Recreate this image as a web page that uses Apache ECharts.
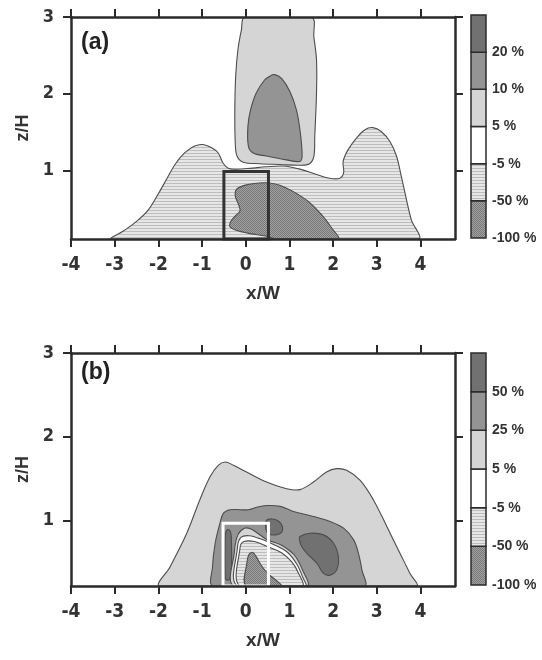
<!DOCTYPE html>
<html>
<head>
<meta charset="utf-8">
<script src="https://cdn.jsdelivr.net/npm/echarts@6/dist/echarts.min.js"></script>
<style>
  html, body { margin: 0; padding: 0; background: #fff; }
  #chart { width: 542px; height: 660px; }
</style>
</head>
<body>
<div id="chart"></div>
<script>
// axes
const xTicks = [-4, -3, -2, -1, 0, 1, 2, 3, 4];
const zTicks = [1, 2, 3];
const xRange = [-4, 4.79];
const zRangeA = [0.11, 3];
const zRangeB = [0.22, 3];

// colour bar labels, bottom to top
const barLevels = [0, 1, 2, 3, 4, 5];
const barLabelsA = ["-100 %", "-50 %", "-5 %", "5 %", "10 %", "20 %"];
const barLabelsB = ["-100 %", "-50 %", "-5 %", "5 %", "25 %", "50 %"];

// building box [x0, z0, x1, z1]
const boxA = [-0.5, 0.11, 0.52, 0.99];
const boxB = [-0.52, 0.22, 0.52, 0.97];

// (a) contour outlines, [x/W, z/H]
const aMinus5 = [[-3.07,0.11],[-2.81,0.21],[-2.50,0.34],[-2.23,0.49],[-2.01,0.69],[-1.82,0.88],[-1.62,1.08],[-1.40,1.23],[-1.17,1.32],[-0.98,1.34],[-0.79,1.30],[-0.63,1.23],[-0.52,1.10],[-0.40,1.03],[-0.21,1.02],[0.09,1.03],[0.47,1.05],[0.85,1.06],[1.24,1.02],[1.62,0.95],[1.92,0.90],[2.15,0.90],[2.24,0.97],[2.23,1.12],[2.34,1.27],[2.53,1.42],[2.72,1.53],[2.91,1.56],[3.10,1.51],[3.30,1.38],[3.45,1.19],[3.56,0.93],[3.68,0.62],[3.79,0.36],[3.94,0.11]];
const aPlus5 = [[-0.02,3.0],[-0.10,2.83],[-0.18,2.57],[-0.23,2.23],[-0.25,1.79],[-0.24,1.36],[-0.20,1.19],[-0.06,1.11],[0.32,1.09],[0.78,1.08],[1.24,1.07],[1.46,1.09],[1.56,1.19],[1.58,1.45],[1.62,2.01],[1.62,2.44],[1.56,2.74],[1.50,3.0]];
const aPlus10 = [[0.66,2.25],[0.82,2.20],[1.01,2.03],[1.16,1.79],[1.25,1.49],[1.29,1.19],[1.24,1.12],[0.93,1.14],[0.47,1.19],[0.17,1.23],[0.06,1.32],[0.05,1.58],[0.11,1.79],[0.24,2.01],[0.43,2.18],[0.55,2.23]];
const aMinus50 = [[-0.21,0.76],[0.05,0.82],[0.30,0.84],[0.55,0.84],[0.78,0.81],[1.08,0.73],[1.43,0.60],[1.73,0.43],[1.96,0.26],[2.11,0.11],[0.70,0.11],[0.45,0.15],[0.10,0.18],[-0.20,0.22],[-0.36,0.27],[-0.34,0.34],[-0.22,0.42],[-0.13,0.48],[-0.18,0.58],[-0.24,0.67]];

// (b) contour outlines
const bPlus5 = [[-1.96,0.22],[-1.73,0.45],[-1.35,0.85],[-1.05,1.25],[-0.82,1.52],[-0.63,1.66],[-0.47,1.70],[-0.28,1.66],[0.02,1.58],[0.48,1.46],[0.94,1.38],[1.24,1.37],[1.55,1.46],[1.85,1.58],[2.08,1.62],[2.31,1.60],[2.62,1.48],[2.92,1.25],[3.23,0.93],[3.53,0.61],[3.76,0.37],[3.90,0.22]];
const bPlus25 = [[-0.74,0.22],[-0.76,0.45],[-0.70,0.73],[-0.59,0.97],[-0.51,1.09],[-0.36,1.13],[-0.13,1.13],[0.06,1.13],[0.25,1.16],[0.48,1.18],[0.79,1.17],[1.09,1.11],[1.55,1.05],[1.93,0.99],[2.24,0.91],[2.47,0.77],[2.58,0.61],[2.66,0.41],[2.71,0.22]];
const bPlus50Right = [[1.24,0.81],[1.47,0.85],[1.78,0.83],[2.01,0.73],[2.12,0.57],[2.08,0.41],[1.93,0.35],[1.78,0.37],[1.63,0.49],[1.40,0.61],[1.28,0.69],[1.23,0.77]];
const bPlus50Top = [[0.47,1.0],[0.62,1.02],[0.76,0.99],[0.84,0.93],[0.82,0.86],[0.68,0.83],[0.52,0.84],[0.46,0.9]];
const bPlus50Left = [[-0.47,0.32],[-0.47,0.82],[-0.43,0.89],[-0.36,0.88],[-0.33,0.80],[-0.33,0.36],[-0.37,0.30],[-0.43,0.29]];
const bArch5 = [[-0.27,0.22],[-0.26,0.63],[-0.18,0.83],[-0.03,0.91],[0.12,0.90],[0.27,0.85],[0.50,0.77],[0.81,0.71],[1.11,0.59],[1.30,0.41],[1.40,0.22]];
const bArchMinus5 = [[-0.19,0.22],[-0.19,0.68],[-0.11,0.80],[0.08,0.82],[0.35,0.78],[0.66,0.71],[0.96,0.62],[1.17,0.48],[1.30,0.33],[1.36,0.22]];
const bArchMinus50 = [[-0.13,0.22],[-0.13,0.68],[-0.04,0.75],[0.20,0.75],[0.50,0.69],[0.81,0.62],[1.05,0.51],[1.21,0.37],[1.29,0.22]];
const bArchMinus100 = [[0.01,0.22],[0.03,0.51],[0.08,0.60],[0.16,0.62],[0.24,0.57],[0.35,0.47],[0.50,0.37],[0.69,0.29],[0.81,0.22]];

const tickFont = "'Liberation Sans Narrow', 'DejaVu Sans Condensed', sans-serif";
const textFont = "'Liberation Sans', Arial, sans-serif";
const ink = "#2b2b2b";
const edge = "#4d4d4d";

function makePattern(w, h, base, mark, cells) {
  const c = document.createElement("canvas");
  c.width = w; c.height = h;
  const g = c.getContext("2d");
  g.fillStyle = base; g.fillRect(0, 0, w, h);
  g.fillStyle = mark;
  cells.forEach(([x, y, cw, ch]) => g.fillRect(x, y, cw, ch));
  return { image: c, repeat: "repeat" };
}

const fills = {
  dark: "#717171",
  mid: "#949494",
  light: "#d5d5d5",
  white: "#ffffff",
  striped: makePattern(4, 3, "#e6e6e6", "#bdbdbd", [[0, 0, 4, 1]]),
  stippled: makePattern(2, 2, "#a2a2a2", "#777777", [[0, 0, 1, 1], [1, 1, 1, 1]]),
};
const barFills = [fills.stippled, fills.striped, fills.white, fills.light, fills.mid, fills.dark];

function contour(grid, pts, fill) {
  return {
    type: "custom", xAxisIndex: grid, yAxisIndex: grid, clip: true, silent: true,
    data: pts,
    renderItem(params, api) {
      if (params.dataIndex !== 0) return;
      const cs = params.coordSys;
      return {
        type: "polygon",
        shape: {
          points: pts.map((p) => api.coord(p)),
          smooth: 0.35,
          smoothConstraint: [[cs.x, cs.y], [cs.x + cs.width, cs.y + cs.height]],
        },
        style: { fill: fill, stroke: edge, lineWidth: 1.1 },
      };
    },
  };
}

function box(grid, b, color) {
  return {
    type: "custom", xAxisIndex: grid, yAxisIndex: grid, silent: true, z: 4,
    data: [b],
    renderItem(params, api) {
      const p0 = api.coord([b[0], b[3]]);
      const p1 = api.coord([b[2], b[1]]);
      return {
        type: "rect",
        shape: { x: p0[0], y: p0[1], width: p1[0] - p0[0], height: p1[1] - p0[1] },
        style: { fill: "none", stroke: color, lineWidth: 3 },
      };
    },
  };
}

function colorBar(grid) {
  return {
    type: "custom", xAxisIndex: grid, yAxisIndex: grid, silent: true,
    data: barLevels,
    renderItem(params, api) {
      const i = api.value(0);
      const p0 = api.coord([0, i + 1]);
      const p1 = api.coord([1, i]);
      return {
        type: "rect",
        shape: { x: p0[0], y: p0[1], width: p1[0] - p0[0], height: p1[1] - p0[1] },
        style: { fill: barFills[i], stroke: ink, lineWidth: 1.5 },
      };
    },
  };
}

const lineStyle = { color: ink, width: 2.5 };

function plotX(grid, pos, named) {
  return {
    type: "value", gridIndex: grid, position: pos, min: xRange[0], max: xRange[1], z: 10,
    axisLine: { onZero: false, lineStyle },
    axisTick: { length: 8, customValues: xTicks, lineStyle: { color: ink, width: 2 } },
    axisLabel: named
      ? { customValues: xTicks, margin: 17, fontFamily: tickFont, fontWeight: "bold", fontSize: 19, color: "#333" }
      : { show: false },
    splitLine: { show: false },
    name: named ? "x/W" : "",
    nameLocation: "middle", nameGap: 45,
    nameTextStyle: { fontFamily: textFont, fontWeight: "bold", fontSize: 19, color: "#333" },
  };
}

function plotZ(grid, pos, range, named) {
  return {
    type: "value", gridIndex: grid, position: pos, min: range[0], max: range[1], z: 10,
    axisLine: { onZero: false, lineStyle },
    axisTick: { length: 8, customValues: zTicks, lineStyle: { color: ink, width: 2 } },
    axisLabel: named
      ? { customValues: zTicks, margin: 17, fontFamily: tickFont, fontWeight: "bold", fontSize: 18, color: "#333" }
      : { show: false },
    splitLine: { show: false },
    name: named ? "z/H" : "",
    nameLocation: "middle", nameGap: 36,
    nameTextStyle: { fontFamily: textFont, fontWeight: "bold", fontSize: 18, color: "#333" },
  };
}

function barX(grid) {
  return { type: "value", gridIndex: grid, min: 0, max: 1, show: false };
}

function barZ(grid, labels) {
  return {
    type: "value", gridIndex: grid, position: "right", min: 0, max: 6,
    axisLine: { show: false }, axisTick: { show: false }, splitLine: { show: false },
    axisLabel: {
      customValues: barLevels, margin: 6, fontFamily: textFont, fontWeight: "bold", fontSize: 14, color: "#333",
      formatter: (v) => labels[v],
    },
  };
}

const chart = echarts.init(document.getElementById("chart"));
chart.setOption({
  animation: false,
  backgroundColor: "#fff",
  grid: [
    { left: 71, top: 17, width: 384, height: 222 },
    { left: 471, top: 15, width: 15, height: 223 },
    { left: 71, top: 353, width: 384, height: 233 },
    { left: 471, top: 353, width: 15, height: 232 },
  ],
  // indices: 0 a, 1 a-bar, 2 b, 3 b-bar, 4 a-top, 5 b-top
  xAxis: [plotX(0, "bottom", true), barX(1), plotX(2, "bottom", true), barX(3), plotX(0, "top", false), plotX(2, "top", false)],
  yAxis: [plotZ(0, "left", zRangeA, true), barZ(1, barLabelsA), plotZ(2, "left", zRangeB, true), barZ(3, barLabelsB), plotZ(0, "right", zRangeA, false), plotZ(2, "right", zRangeB, false)],
  graphic: [
    { type: "text", left: 81, top: 31, style: { text: "(a)", font: "bold 23px " + textFont, fill: "#222" } },
    { type: "text", left: 81, top: 361, style: { text: "(b)", font: "bold 23px " + textFont, fill: "#222" } },
  ],
  series: [
    contour(0, aMinus5, fills.striped),
    contour(0, aPlus5, fills.light),
    contour(0, aPlus10, fills.mid),
    contour(0, aMinus50, fills.stippled),
    box(0, boxA, "#333"),
    colorBar(1),
    contour(2, bPlus5, fills.light),
    contour(2, bPlus25, fills.mid),
    contour(2, bPlus50Right, fills.dark),
    contour(2, bPlus50Top, fills.dark),
    contour(2, bPlus50Left, fills.dark),
    contour(2, bArch5, fills.light),
    contour(2, bArchMinus5, fills.white),
    contour(2, bArchMinus50, fills.striped),
    contour(2, bArchMinus100, fills.stippled),
    box(2, boxB, "#fff"),
    colorBar(3),
  ],
});
</script>
</body>
</html>
